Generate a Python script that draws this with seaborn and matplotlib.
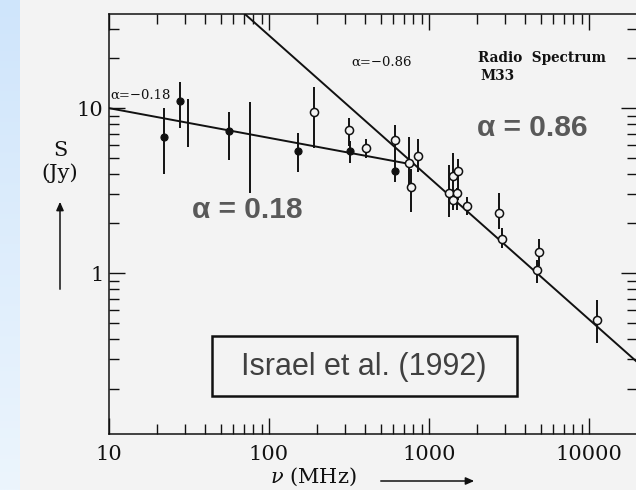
import numpy as np
import pandas as pd
import matplotlib
matplotlib.use("Agg")
import matplotlib.pyplot as plt
from matplotlib.patches import Rectangle, FancyArrowPatch
from matplotlib.ticker import LogLocator, NullFormatter, FixedLocator, FixedFormatter
import seaborn as sns

# ---- measured flux densities of M33 ----
# filled symbols (low-frequency measurements)
nu_filled = [22, 27.8, 56, 152, 321, 613]
s_filled = [6.67, 11.0, 7.26, 5.49, 5.49, 4.15]
s_filled_lo = [4.0, 7.6, 4.84, 4.1, 4.64, 3.56]
s_filled_hi = [10.0, 14.4, 9.5, 7.05, 6.3, 4.64]

# error bars drawn without a symbol
nu_bare = [31, 76]
s_bare_lo = [5.8, 3.05]
s_bare_hi = [11.3, 10.9]

# open symbols
nu_open = [191, 316, 404, 613, 750, 772, 853, 1334, 1413, 1413, 1496, 1517,
           1728, 2738, 2858, 4870, 4732, 11220]
s_open = [9.46, 7.36, 5.72, 6.4, 4.64, 3.32, 5.12, 3.05, 3.87, 2.77, 3.05, 4.15,
          2.55, 2.31, 1.61, 1.34, 1.04, 0.519]
s_open_lo = [5.7, 5.9, 4.97, 4.64, 3.3, 2.34, 4.1, 2.18, 2.5, 2.41, 2.41, 2.77,
             2.25, 1.85, 1.42, 1.1, 0.87, 0.377]
s_open_hi = [13.4, 8.7, 6.5, 7.9, 6.67, 4.3, 6.5, 4.5, 5.34, 2.9, 3.27, 4.9,
             2.89, 3.05, 1.87, 1.61, 1.2, 0.686]

# power-law fits S ~ nu^alpha
alpha_low = -0.18
s10_low = 10.0          # Jy at 10 MHz
nu_low_range = [10, 800]
alpha_high = -0.86
s1000_high = 3.81       # Jy at 1000 MHz
nu_high_range = [40, 20000]

x_ticks = [10, 100, 1000, 10000]
x_tick_labels = ["10", "100", "1000", "10000"]
y_ticks = [1, 10]
y_tick_labels = ["1", "10"]

BG = "#f3f3f3"
INK = "#111111"
W, H = 636, 490

sns.set_style("ticks")
plt.rcParams["font.family"] = ["DejaVu Serif"]
plt.rcParams["mathtext.fontset"] = "dejavuserif"

fig = plt.figure(figsize=(W / 100, H / 100), dpi=100, facecolor=BG)


def fx(px):
    return px / W


def fy(py):
    return 1 - py / H


# light blue band at the left edge
band = fig.add_axes([0, 0, fx(20), 1])
grad = np.linspace(0, 1, 256).reshape(-1, 1)
top_c = np.array([207, 229, 251]) / 255
bot_c = np.array([236, 245, 253]) / 255
img = top_c[None, None, :] * (1 - grad[:, :, None]) + bot_c[None, None, :] * grad[:, :, None]
band.imshow(img, aspect="auto", extent=[0, 1, 0, 1])
band.set_axis_off()

ax = fig.add_axes([fx(109), fy(434), fx(637) - fx(109), fy(14) - fy(434)])
ax.set_facecolor(BG)
ax.set_xscale("log")
ax.set_yscale("log")
ax.set_xlim(10, 20000)
ax.set_ylim(0.106, 37.2)

# fitted power laws
nu_a = np.geomspace(*nu_low_range, 60)
nu_b = np.geomspace(*nu_high_range, 60)
fits = pd.concat([
    pd.DataFrame({"nu": nu_a, "S": s10_low * (nu_a / 10) ** alpha_low, "fit": "low"}),
    pd.DataFrame({"nu": nu_b, "S": s1000_high * (nu_b / 1000) ** alpha_high, "fit": "high"}),
])
sns.lineplot(data=fits, x="nu", y="S", units="fit", estimator=None, color=INK,
             lw=1.4, ax=ax, zorder=2, legend=False)

# error bars
ax.vlines(nu_filled, s_filled_lo, s_filled_hi, color=INK, lw=1.4, zorder=3)
ax.vlines(nu_bare, s_bare_lo, s_bare_hi, color=INK, lw=1.4, zorder=3)
ax.vlines(nu_open, s_open_lo, s_open_hi, color=INK, lw=1.4, zorder=3)

# symbols
sns.scatterplot(x=nu_filled, y=s_filled, ax=ax, s=26, color=INK, edgecolor=INK,
                linewidth=0.8, zorder=4)
sns.scatterplot(x=nu_open, y=s_open, ax=ax, s=34, facecolor=BG, edgecolor=INK,
                linewidth=1.1, zorder=4)

# axes styling
for sp in ax.spines.values():
    sp.set_color(INK)
    sp.set_linewidth(1.1)
ax.set_xlabel("")
ax.set_ylabel("")
ax.xaxis.set_major_locator(FixedLocator(x_ticks))
ax.xaxis.set_major_formatter(FixedFormatter(x_tick_labels))
ax.yaxis.set_major_locator(FixedLocator(y_ticks))
ax.yaxis.set_major_formatter(FixedFormatter(y_tick_labels))
ax.xaxis.set_minor_locator(LogLocator(base=10, subs=np.arange(2, 10), numticks=20))
ax.yaxis.set_minor_locator(LogLocator(base=10, subs=np.arange(2, 10), numticks=20))
ax.xaxis.set_minor_formatter(NullFormatter())
ax.yaxis.set_minor_formatter(NullFormatter())
ax.tick_params(which="both", direction="in", top=True, right=True, color=INK,
               width=1.0, labelsize=15, labelcolor=INK)
ax.tick_params(which="major", length=11.5)
ax.tick_params(which="minor", length=7)
ax.tick_params(axis="x", which="major", pad=8)
ax.tick_params(axis="y", which="major", pad=4)

# labels printed in the figure
ax.text(fx(110), fy(95), "α=−0.18", transform=fig.transFigure, fontsize=9.5,
        color=INK, ha="left", va="center")
ax.text(fx(351), fy(62), "α=−0.86", transform=fig.transFigure, fontsize=9.5,
        color=INK, ha="left", va="center")
ax.text(fx(478), fy(58), "Radio  Spectrum", transform=fig.transFigure, fontsize=9.8,
        fontweight="bold", color=INK, ha="left", va="center")
ax.text(fx(480), fy(76), "M33", transform=fig.transFigure, fontsize=9.8,
        fontweight="bold", color=INK, ha="left", va="center")

fig.text(fx(60), fy(150), "S", fontsize=15, color=INK, ha="center", va="center")
fig.text(fx(60), fy(173), "(Jy)", fontsize=15, color=INK, ha="center", va="center")
fig.patches.append(FancyArrowPatch(
    (fx(60), fy(292)), (fx(60), fy(199)), transform=fig.transFigure,
    arrowstyle="-|>,head_length=5,head_width=2.2", color=INK, lw=1.1))

fig.text(fx(313), fy(477), r"$\nu$ (MHz)", fontsize=15, color=INK,
         ha="center", va="center")
fig.patches.append(FancyArrowPatch(
    (fx(378), fy(481)), (fx(477), fy(481)), transform=fig.transFigure,
    arrowstyle="-|>,head_length=5,head_width=2.2", color=INK, lw=1.1))

# spectral-index call-outs
fig.text(fx(247), fy(210), "α = 0.18", family="Liberation Sans", fontweight="bold",
         fontsize=21.5, color="#595959", ha="center", va="center")
fig.text(fx(532), fy(128), "α = 0.86", family="Liberation Sans", fontweight="bold",
         fontsize=21.5, color="#595959", ha="center", va="center")

# reference box
fig.patches.append(Rectangle((fx(212), fy(396)), fx(517) - fx(212), fy(336) - fy(396),
                             transform=fig.transFigure, facecolor=BG,
                             edgecolor=INK, lw=1.8, zorder=5))
fig.text(fx(364), fy(367), "Israel et al. (1992)", family="Liberation Sans",
         fontsize=22, color="#404040", ha="center", va="center", zorder=6)

fig.savefig("out.png", dpi=100, facecolor=BG)
